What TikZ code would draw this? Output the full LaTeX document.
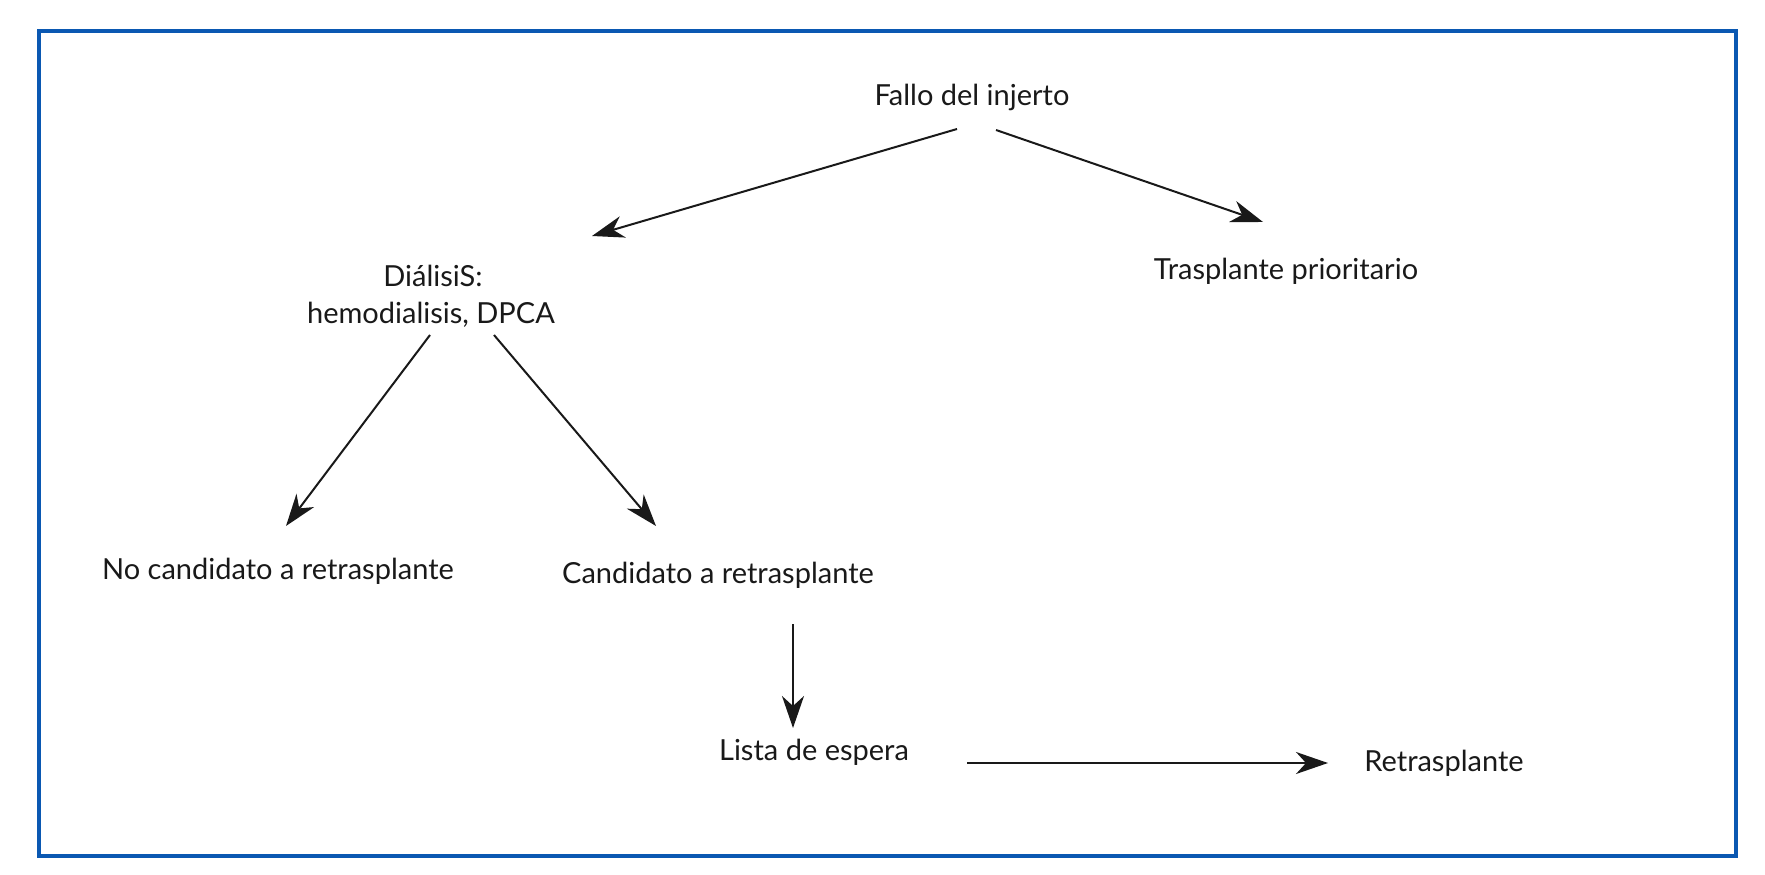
\documentclass[tikz,border=0pt]{standalone}
\usepackage{fontspec}
\setmainfont{Lato}
\usetikzlibrary{arrows.meta}
\definecolor{frameblue}{RGB}{10,88,178}
\begin{document}
\begin{tikzpicture}[x=1pt,y=-1pt,
  lbl/.style={anchor=base,inner sep=0pt,font=\fontsize{29}{35}\selectfont,text=black!90},
  conn/.style={line width=2pt,black!90,-{Stealth[length=32pt,width=22pt,inset=10pt]}}]
\useasboundingbox (0,0) rectangle (1765,875);
\draw[frameblue,line width=3.5pt] (39,31) rectangle (1736,856);
\node[lbl] (fallo) at (972,105) {Fallo del injerto};
\node[lbl] (dial) at (433,286) {DiálisiS:};
\node[lbl] (hemo) at (431,323) {hemodialisis, DPCA};
\node[lbl] (tras) at (1286,279) {Trasplante prioritario};
\node[lbl] (nocand) at (278,579) {No candidato a retrasplante};
\node[lbl] (cand) at (718,583) {Candidato a retrasplante};
\node[lbl] (lista) at (814,760) {Lista de espera};
\node[lbl] (retr) at (1444,771) {Retrasplante};
\coordinate (a1s) at (957,129); \coordinate (a1e) at (592,236);
\coordinate (a2s) at (996,130); \coordinate (a2e) at (1263,222);
\coordinate (a3s) at (430,335); \coordinate (a3e) at (286,526);
\coordinate (a4s) at (494,335); \coordinate (a4e) at (656,526);
\coordinate (a5s) at (793,624); \coordinate (a5e) at (793,728);
\coordinate (a6s) at (967,763); \coordinate (a6e) at (1328,763);
\draw[conn] (a1s) -- (a1e);
\draw[conn] (a2s) -- (a2e);
\draw[conn] (a3s) -- (a3e);
\draw[conn] (a4s) -- (a4e);
\draw[conn] (a5s) -- (a5e);
\draw[conn] (a6s) -- (a6e);
\end{tikzpicture}
\end{document}
